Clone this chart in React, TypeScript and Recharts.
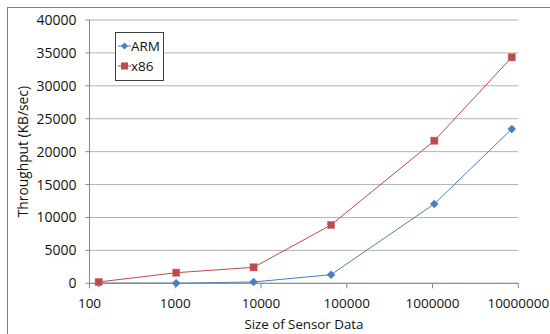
import React from 'react';
import { LineChart, Line, XAxis, YAxis, CartesianGrid, Legend, Label } from 'recharts';

const sizes = [128, 1024, 8192, 65536, 1048576, 8388608];
const armThroughput = [30, 20, 200, 1310, 12050, 23440];
const x86Throughput = [200, 1610, 2430, 8860, 21660, 34330];
const xTicks = [100, 1000, 10000, 100000, 1000000, 10000000];
const yTicks = [0, 5000, 10000, 15000, 20000, 25000, 30000, 35000, 40000];

const data = sizes.map((size, i) => ({
  size,
  arm: armThroughput[i],
  x86: x86Throughput[i],
}));

const ARM_COLOR = '#4a7ebb';
const X86_COLOR = '#be4b48';
const FONT = '"Open Sans", sans-serif';

const Diamond = (props: any) => {
  const { cx, cy } = props;
  if (cx == null || cy == null) return null;
  const r = 4;
  return (
    <path
      d={`M${cx},${cy - r} L${cx + r},${cy} L${cx},${cy + r} L${cx - r},${cy} Z`}
      fill={ARM_COLOR}
      stroke={ARM_COLOR}
      strokeWidth={0.5}
    />
  );
};

const Square = (props: any) => {
  const { cx, cy } = props;
  if (cx == null || cy == null) return null;
  const h = 3.7;
  return <rect x={cx - h} y={cy - h} width={h * 2} height={h * 2} fill={X86_COLOR} stroke="#d88" strokeWidth={0.5} />;
};

const LegendBox = () => (
  <div
    style={{
      border: '1px solid #404040',
      background: '#fff',
      width: 45,
      padding: '3px 0 4px 2px',
      fontFamily: FONT,
      fontSize: 13.5,
      color: '#111',
      lineHeight: '20px',
    }}
  >
    <div style={{ display: 'flex', alignItems: 'center' }}>
      <svg width={13} height={10}>
        <line x1={0} y1={5} x2={13} y2={5} stroke={ARM_COLOR} strokeWidth={1} />
        <path d="M6.5,1.5 L10,5 L6.5,8.5 L3,5 Z" fill={ARM_COLOR} />
      </svg>
      <span>ARM</span>
    </div>
    <div style={{ display: 'flex', alignItems: 'center' }}>
      <svg width={13} height={10}>
        <line x1={0} y1={5} x2={13} y2={5} stroke={X86_COLOR} strokeWidth={1} />
        <rect x={3} y={1.5} width={7} height={7} fill={X86_COLOR} />
      </svg>
      <span>x86</span>
    </div>
  </div>
);

export default function App() {
  return (
    <div style={{ position: 'absolute', left: 0, top: 0, width: 550, height: 334, background: '#fff', overflow: 'hidden' }}>
      <div
        style={{
          position: 'absolute',
          left: 7,
          top: 7,
          width: 600,
          height: 400,
          borderLeft: '1px solid #808080',
          borderTop: '1px solid #808080',
        }}
      />
      <div style={{ position: 'absolute', left: 0, top: 0 }}>
        <LineChart width={550} height={334} data={data} margin={{ top: 20, right: 31.7, bottom: 0, left: 29.5 }}>
          <CartesianGrid vertical={false} stroke="#b3b3b3" />
          <XAxis
            dataKey="size"
            type="number"
            scale="log"
            domain={[100, 10000000]}
            ticks={xTicks}
            allowDataOverflow
            height={50.7}
            tickSize={5}
            tickMargin={10.5}
            stroke="#868686"
            tick={{ fill: '#111', fontSize: 13.5, fontFamily: FONT }}
            interval={0}
          >
            <Label
              value="Size of Sensor Data"
              position="insideBottom"
              offset={5}
              style={{ fill: '#111', fontSize: 13.3, fontFamily: FONT }}
            />
          </XAxis>
          <YAxis
            type="number"
            domain={[0, 40000]}
            ticks={yTicks}
            width={60}
            tickSize={4}
            tickMargin={9}
            stroke="#868686"
            tick={{ fill: '#111', fontSize: 14, fontFamily: FONT }}
            interval={0}
          >
            <Label
              content={() => (
                <text
                  x={23}
                  y={151.6}
                  transform="rotate(-90 23 151.6)"
                  textAnchor="middle"
                  dominantBaseline="central"
                  style={{ fill: '#111', fontSize: 13.8, fontFamily: FONT }}
                >
                  Throughput (KB/sec)
                </text>
              )}
            />
          </YAxis>
          <Legend
            layout="vertical"
            align="center"
            verticalAlign="middle"
            content={<LegendBox />}
            wrapperStyle={{ position: 'absolute', left: 115, top: 32, width: 'auto', height: 'auto' }}
          />
          <Line
            dataKey="arm"
            name="ARM"
            stroke={ARM_COLOR}
            strokeWidth={1}
            dot={<Diamond />}
            activeDot={false}
            isAnimationActive={false}
          />
          <Line
            dataKey="x86"
            name="x86"
            stroke={X86_COLOR}
            strokeWidth={1}
            dot={<Square />}
            activeDot={false}
            isAnimationActive={false}
          />
        </LineChart>
      </div>
    </div>
  );
}
